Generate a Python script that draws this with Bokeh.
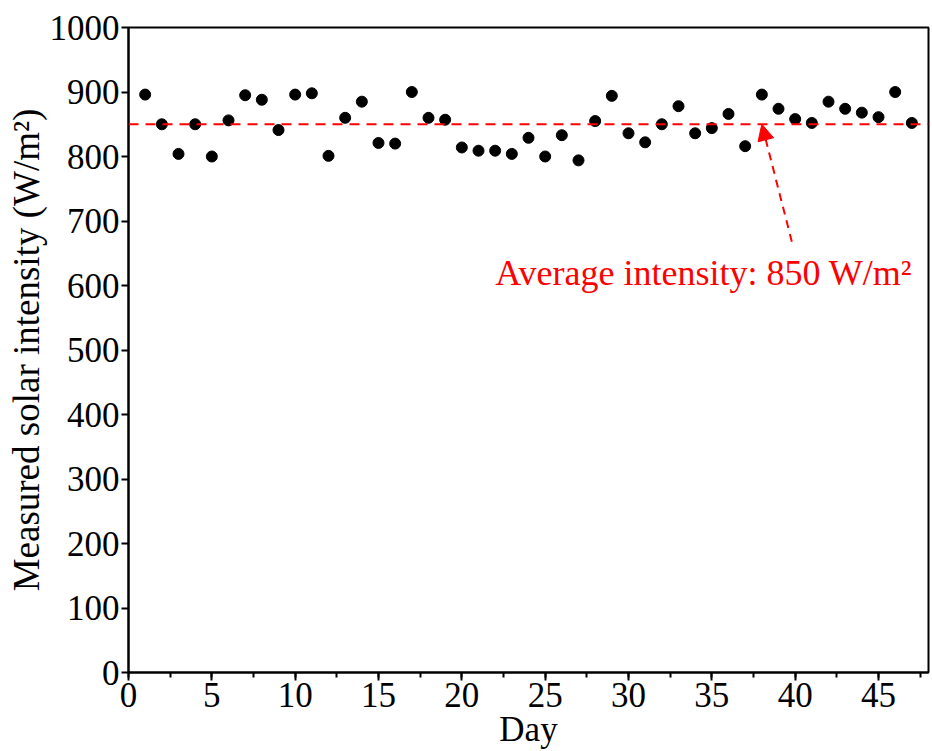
from bokeh.plotting import figure
from bokeh.models import SingleIntervalTicker, Span, Arrow, NormalHead, Label, Range1d
from bokeh.embed import file_html
from bokeh.resources import INLINE

days = list(range(1, 48))
intensity = [896, 850, 804, 850, 800, 856, 895, 888, 841, 896,
             898, 801, 860, 885, 821, 820, 900, 860, 857, 814,
             809, 809, 804, 829, 800, 833, 794, 855, 894, 836,
             822, 850, 878, 836, 844, 866, 816, 896, 874, 858,
             852, 885, 874, 868, 861, 900, 852]
average = 850
note_text = "Average intensity: 850 W/m\u00b2"
arrow_tail = (39.8, 668)
arrow_tip = (38.0, 850)
note_pos = (22.0, 620)

FONT = "Liberation Serif"

p = figure(width=932, height=751, output_backend="svg", toolbar_location=None,
           x_range=Range1d(0, 48), y_range=Range1d(0, 1000),
           min_border_left=128, min_border_right=4, min_border_top=27, min_border_bottom=78)
p.background_fill_color = "white"
p.border_fill_color = "white"
p.outline_line_color = "black"
p.outline_line_width = 2
p.xgrid.visible = False
p.ygrid.visible = False

p.xaxis.ticker = SingleIntervalTicker(interval=5, num_minor_ticks=2)
p.yaxis.ticker = SingleIntervalTicker(interval=100, num_minor_ticks=0)
for ax in (p.xaxis[0], p.yaxis[0]):
    ax.axis_line_width = 2
    ax.major_tick_line_width = 2
    ax.minor_tick_line_width = 2
    ax.major_tick_in = 0
    ax.minor_tick_in = 0
    ax.major_label_text_font = FONT
    ax.major_label_text_font_size = "35px"
    ax.major_label_text_color = "black"
    ax.axis_label_text_font = FONT
    ax.axis_label_text_font_style = "normal"
    ax.axis_label_text_color = "black"
p.xaxis.axis_label_text_font_size = "35px"
p.yaxis.axis_label_text_font_size = "37px"
p.xaxis.major_tick_out = 8
p.xaxis.minor_tick_out = 5
p.yaxis.major_tick_out = 7
p.xaxis.major_label_standoff = 2
p.yaxis.major_label_standoff = 2
p.xaxis.axis_label = "Day"
p.yaxis.axis_label = "Measured solar intensity (W/m\u00b2)"
p.xaxis.axis_label_standoff = 0
p.yaxis.axis_label_standoff = 0

p.add_layout(Span(location=average, dimension="width", line_color="red",
                  line_width=2, line_dash="10 7"))

p.scatter(days, intensity, size=11, color="black")

p.add_layout(Arrow(end=NormalHead(size=16, fill_color="red", line_color="red"),
                   x_start=arrow_tail[0], y_start=arrow_tail[1],
                   x_end=arrow_tip[0], y_end=arrow_tip[1],
                   line_color="red", line_width=2, line_dash="8 6"))

p.add_layout(Label(x=note_pos[0], y=note_pos[1], text=note_text,
                   text_font=FONT, text_font_size="36px", text_color="red",
                   text_baseline="alphabetic"))

open("out.html", "w").write(file_html(p, INLINE))
